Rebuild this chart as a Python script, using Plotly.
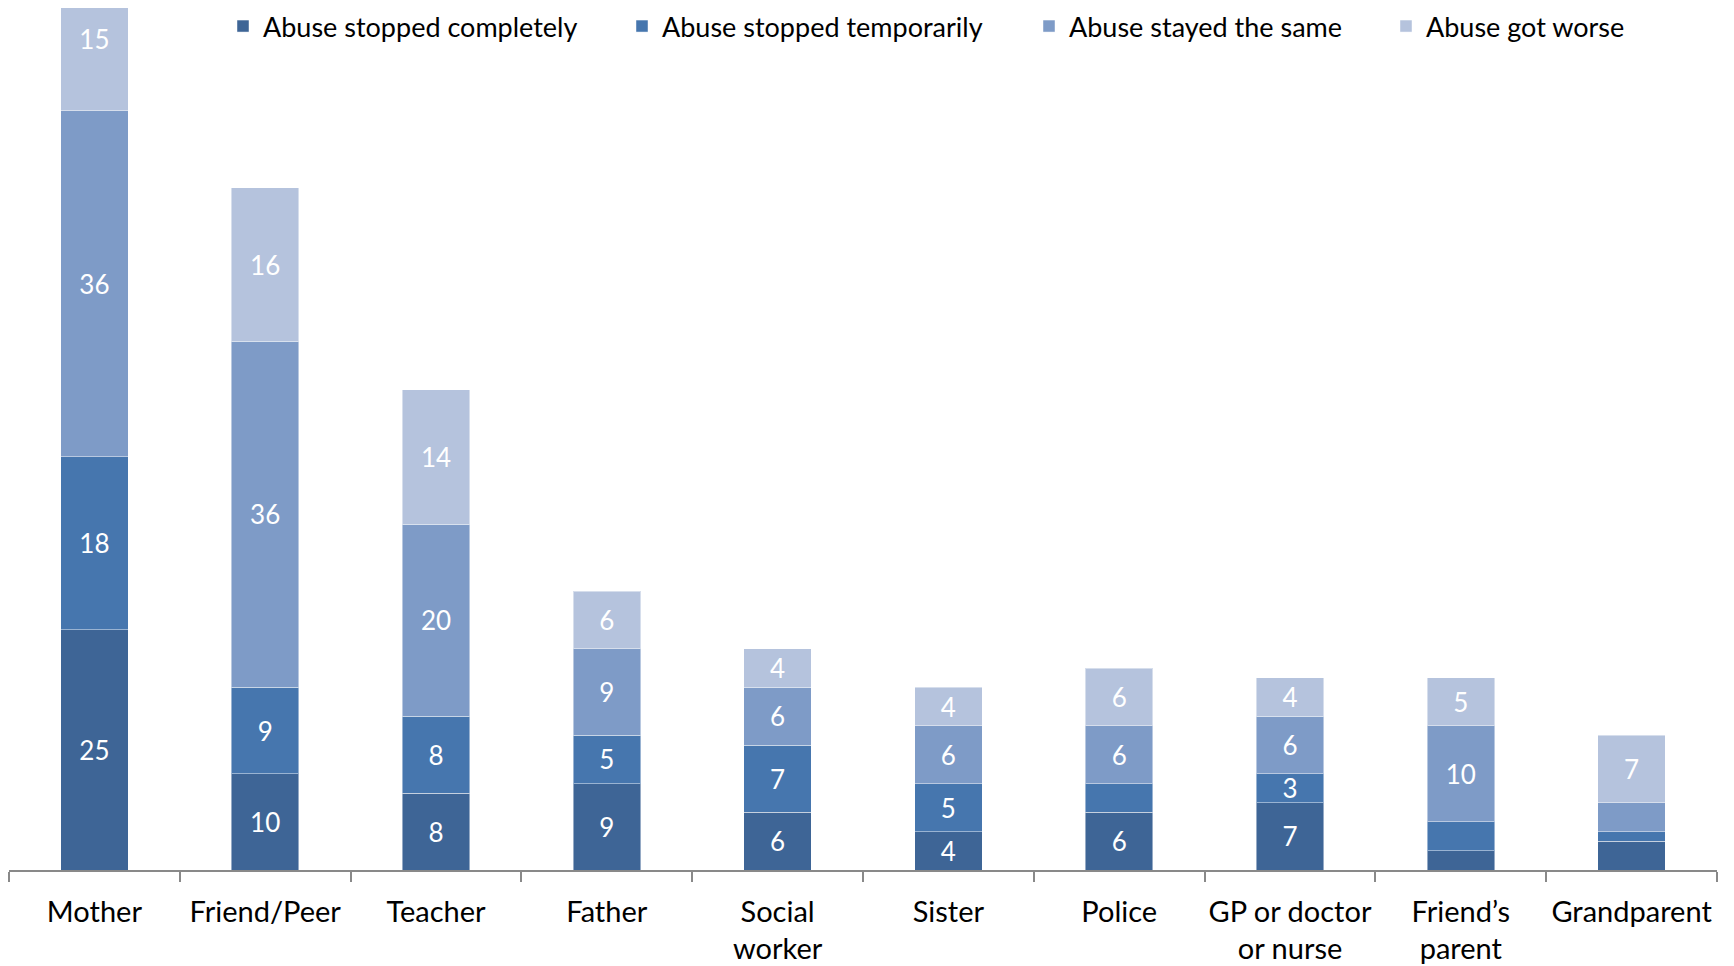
import plotly.graph_objects as go

categories = ["Mother", "Friend/Peer", "Teacher", "Father", "Social<br>worker", "Sister",
              "Police", "GP or doctor<br>or nurse", "Friend’s<br>parent", "Grandparent"]

series_names = ["Abuse stopped completely", "Abuse stopped temporarily",
                "Abuse stayed the same", "Abuse got worse"]

stopped_completely = [25, 10, 8, 9, 6, 4, 6, 7, 2, 3]
stopped_temporarily = [18, 9, 8, 5, 7, 5, 3, 3, 3, 1]
stayed_same = [36, 36, 20, 9, 6, 6, 6, 6, 10, 3]
got_worse = [15, 16, 14, 6, 4, 4, 6, 4, 5, 7]

# labels shown in the chart (blank where the original chart shows none)
labels_completely = ["25", "10", "8", "9", "6", "4", "6", "7", "", ""]
labels_temporarily = ["18", "9", "8", "5", "7", "5", "", "3", "", ""]
labels_same = ["36", "36", "20", "9", "6", "6", "6", "6", "10", ""]
labels_worse = ["15", "16", "14", "6", "4", "4", "6", "4", "5", "7"]

colors = ["#3E6596", "#4676AE", "#7E9BC7", "#B5C3DD"]
values = [stopped_completely, stopped_temporarily, stayed_same, got_worse]
labels = [labels_completely, labels_temporarily, labels_same, labels_worse]

FONT = "Lato, 'Open Sans', sans-serif"
# the page body has an 8px margin, so the figure is 16px smaller than the window
W, H = 1726, 958
ML, MR, MT, MB = 1, 17, 0, 96
plot_w = W - ML - MR
plot_h = H - MT - MB

# legend symbol centres (px, figure coords) for each entry
legend_centres = [238, 637, 1044, 1401]

fig = go.Figure()
for i, (name, vals, labs, col) in enumerate(zip(series_names, values, labels, colors)):
    lg = "legend" if i == 0 else f"legend{i+1}"
    fig.add_trace(go.Bar(
        x=categories, y=vals, name=name, text=labs,
        textposition="inside", insidetextanchor="middle", constraintext="none",
        textangle=0,
        textfont=dict(family=FONT, size=26, color="white"),
        marker=dict(color=col, line=dict(color="rgba(255,255,255,0.45)", width=1)),
        hoverinfo="x+y+name",
        legend=lg,
    ))

layout_legends = {}
for i, cx in enumerate(legend_centres):
    key = "legend" if i == 0 else f"legend{i+1}"
    layout_legends[key] = dict(
        x=(cx - 23 - ML) / plot_w, xanchor="left",
        y=1 + 6 / plot_h, yanchor="top",
        orientation="h",
        font=dict(family=FONT, size=27, color="#000000"),
        bgcolor="rgba(0,0,0,0)", borderwidth=0,
        itemwidth=30,
    )

fig.update_layout(
    barmode="stack",
    bargap=0.605,
    width=W, height=H,
    margin=dict(l=ML, r=MR, t=MT, b=MB, autoexpand=False),
    paper_bgcolor="white", plot_bgcolor="white",
    font=dict(family=FONT, size=27, color="#000000"),
    showlegend=True,
    **layout_legends,
)
fig.update_xaxes(
    showline=True, linecolor="#898989", linewidth=1.5,
    ticks="outside", tickson="boundaries", ticklen=10, tickcolor="#898989", tickwidth=1.5,
    tickfont=dict(family=FONT, size=29, color="#000000"),
    tickangle=0,
    ticklabelstandoff=15,
    showgrid=False, zeroline=False, automargin=False,
)
fig.update_yaxes(visible=False, range=[0, plot_h / 9.61], showgrid=False, zeroline=False)

fig.write_html("out.html")
